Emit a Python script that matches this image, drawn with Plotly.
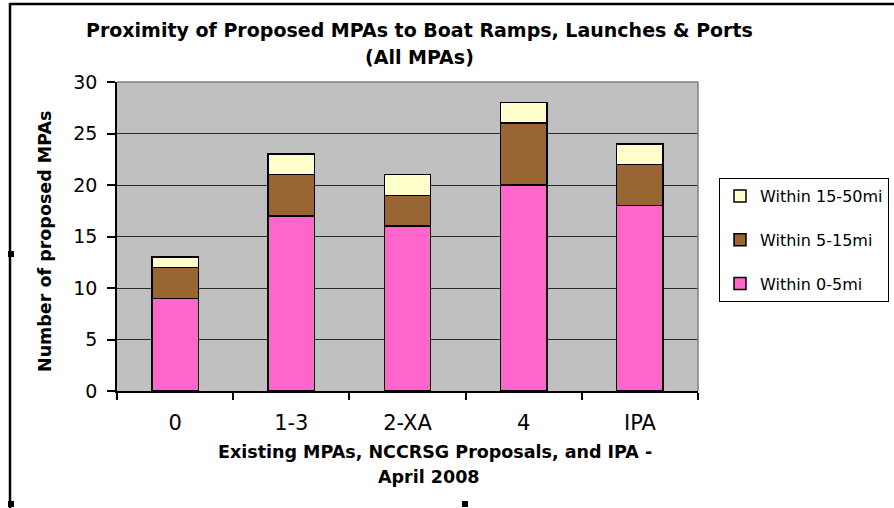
import plotly.graph_objects as go

categories = ["0", "1-3", "2-XA", "4", "IPA"]
within_0_5 = [9, 17, 16, 20, 18]
within_5_15 = [3, 4, 3, 6, 4]
within_15_50 = [1, 2, 2, 2, 2]
series_names = ["Within 0-5mi", "Within 5-15mi", "Within 15-50mi"]
series_colors = ["#FF66CC", "#996633", "#FFFFCC"]

W, H = 894, 508
L, R, T, B = 117, 698, 82, 391
pw, ph = R - L, B - T

def px(x):
    return (x - L) / pw

def py(y):
    return (B - y) / ph

FONT = "DejaVu Sans, Verdana, sans-serif"

fig = go.Figure()
for i, (name, vals, col) in enumerate(zip(series_names, [within_0_5, within_5_15, within_15_50], series_colors)):
    fig.add_trace(go.Bar(
        x=categories, y=vals, name=name, legendgroup=f"g{i}", legendrank=10 - i,
        marker=dict(color=col, line=dict(color="#000000", width=1.5)),
    ))

shapes = []
# chart frame (top and left border)
shapes.append(dict(type="line", xref="paper", yref="paper", x0=px(10), x1=px(900), y0=py(4), y1=py(4),
                   line=dict(color="#000", width=2.5)))
shapes.append(dict(type="line", xref="paper", yref="paper", x0=px(10), x1=px(10), y0=py(3), y1=py(510),
                   line=dict(color="#000", width=2.5)))
# plot area gray border (top and right)
shapes.append(dict(type="line", xref="paper", yref="paper", x0=0, x1=1, y0=1, y1=1,
                   line=dict(color="#808080", width=1.5)))
shapes.append(dict(type="line", xref="paper", yref="paper", x0=1, x1=1, y0=0, y1=1,
                   line=dict(color="#808080", width=1.5)))
# selection handles
for hx, hy in [(11, 254), (11, 504), (465, 504)]:
    shapes.append(dict(type="rect", xref="paper", yref="paper", x0=px(hx - 3), x1=px(hx + 3),
                       y0=py(hy + 3), y1=py(hy - 3), fillcolor="#000", line=dict(width=0)))

annotations = [
    dict(text="<b>Proximity of Proposed MPAs to Boat Ramps, Launches & Ports</b>", xref="paper", yref="paper",
         x=px(420), y=py(30), xanchor="center", yanchor="middle", showarrow=False,
         font=dict(family=FONT, size=19, color="#000")),
    dict(text="<b>(All MPAs)</b>", xref="paper", yref="paper",
         x=px(420), y=py(57), xanchor="center", yanchor="middle", showarrow=False,
         font=dict(family=FONT, size=19, color="#000")),
    dict(text="<b>Existing MPAs, NCCRSG Proposals, and IPA -</b>", xref="paper", yref="paper",
         x=px(435), y=py(452), xanchor="center", yanchor="middle", showarrow=False,
         font=dict(family=FONT, size=17.5, color="#000")),
    dict(text="<b>April 2008</b>", xref="paper", yref="paper",
         x=px(429), y=py(477), xanchor="center", yanchor="middle", showarrow=False,
         font=dict(family=FONT, size=17.5, color="#000")),
    dict(text="<b>Number of proposed MPAs</b>", xref="paper", yref="paper",
         x=px(45), y=py(242), xanchor="center", yanchor="middle", showarrow=False, textangle=-90,
         font=dict(family=FONT, size=17.5, color="#000")),
]

fig.update_layout(
    width=W, height=H,
    margin=dict(l=L, r=W - R, t=T, b=H - B, pad=0, autoexpand=False),
    paper_bgcolor="#FFFFFF", plot_bgcolor="#C0C0C0",
    barmode="stack", bargap=0.6,
    showlegend=True,
    legend=dict(
        x=px(719), y=py(178), xanchor="left", yanchor="top",
        traceorder="grouped", tracegroupgap=20,
        bgcolor="#FFFFFF", bordercolor="#000", borderwidth=1,
        font=dict(family=FONT, size=16, color="#000"),
        itemwidth=30,
    ),
    shapes=shapes,
    annotations=annotations,
    xaxis=dict(
        type="category", showgrid=False, showline=True, linecolor="#000", linewidth=1.5,
        ticks="outside", tickson="boundaries", ticklen=7, tickcolor="#000", tickwidth=1.5,
        tickfont=dict(family=FONT, size=21, color="#000"), ticklabelstandoff=12,
        zeroline=False,
    ),
    yaxis=dict(
        range=[0, 30], dtick=5, showgrid=True, gridcolor="#2a2a2a", gridwidth=1.2,
        showline=True, linecolor="#000", linewidth=1.5,
        ticks="outside", ticklen=8, tickcolor="#000", tickwidth=1.5,
        tickfont=dict(family=FONT, size=19, color="#000"), ticklabelstandoff=6,
        zeroline=False,
    ),
)

fig.write_html("out.html")
